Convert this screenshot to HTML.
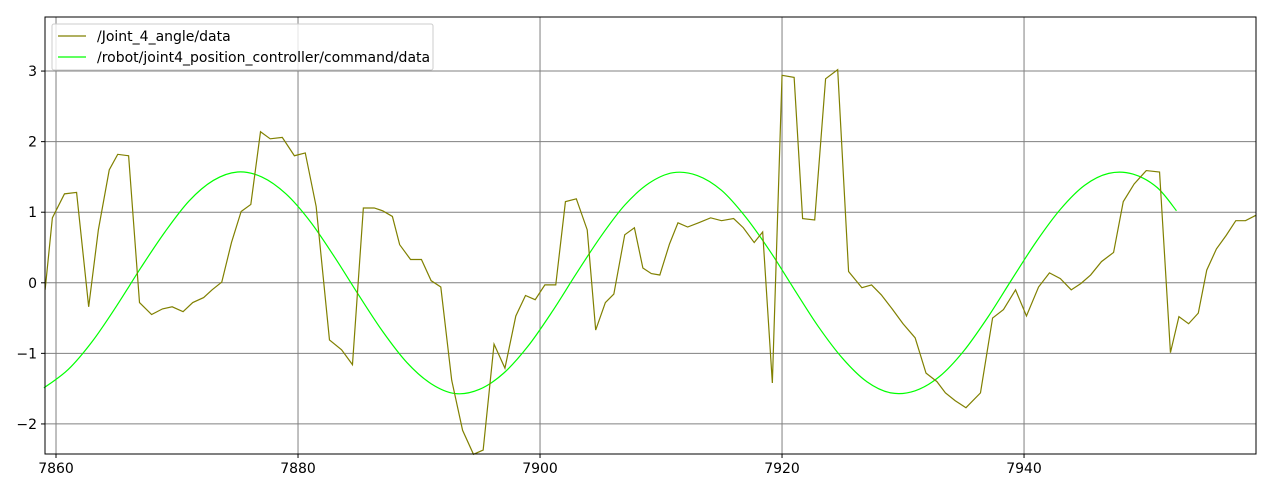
<!DOCTYPE html>
<html><head><meta charset="utf-8"><style>
body{margin:0;background:#fff;font-family:"Liberation Sans",sans-serif}
svg text{font-family:"DejaVu Sans","Liberation Sans",sans-serif;font-size:14px;fill:#000}
</style></head><body>
<svg id="chart" width="1271" height="493">
<rect x="0" y="0" width="1271" height="493" fill="#fff"/>
<g id="grid"></g>
<g id="series"></g>
<g id="axes"></g>
<g id="legend">
<rect x="52" y="24" width="381" height="46" fill="#fff" fill-opacity="0.8" stroke="#ccc" rx="2"/>
<line x1="58" y1="36" x2="86" y2="36" stroke="#808000" stroke-width="1.2"/>
<text x="97" y="41">/Joint_4_angle/data</text>
<line x1="58" y1="57" x2="86" y2="57" stroke="#00ff00" stroke-width="1.2"/>
<text x="97" y="62">/robot/joint4_position_controller/command/data</text>
</g>
</svg>
<script>
const angleX=[7859.1,7859.7,7860.7,7861.7,7862.7,7863.5,7864.4,7865.1,7866.0,7866.9,7867.9,7868.8,7869.6,7870.5,7871.3,7872.2,7872.9,7873.7,7874.5,7875.3,7876.1,7876.9,7877.7,7878.7,7879.7,7880.6,7881.5,7882.6,7883.6,7884.5,7885.4,7886.3,7887.0,7887.8,7888.4,7889.3,7890.2,7891.0,7891.8,7892.7,7893.6,7894.5,7895.3,7896.2,7897.1,7898.0,7898.8,7899.6,7900.4,7901.3,7902.1,7903.0,7903.9,7904.6,7905.4,7906.1,7907.0,7907.8,7908.5,7909.2,7909.9,7910.7,7911.4,7912.2,7913.1,7914.1,7915.0,7916.0,7916.8,7917.7,7918.4,7919.2,7920.0,7921.0,7921.7,7922.7,7923.6,7924.6,7925.5,7926.6,7927.4,7928.2,7929.1,7930.0,7931.0,7931.9,7932.8,7933.5,7934.3,7935.2,7936.4,7937.4,7938.3,7939.3,7940.2,7941.2,7942.1,7943.0,7943.9,7944.7,7945.5,7946.4,7947.4,7948.2,7949.1,7950.1,7951.2,7952.1,7952.8,7953.6,7954.4,7955.1,7955.9,7956.7,7957.5,7958.3,7959.2];
const angleY=[-0.10,0.92,1.26,1.28,-0.34,0.75,1.60,1.82,1.80,-0.28,-0.45,-0.37,-0.34,-0.41,-0.28,-0.21,-0.10,0.01,0.57,1.01,1.11,2.14,2.04,2.06,1.80,1.84,1.08,-0.81,-0.95,-1.16,1.06,1.06,1.02,0.94,0.54,0.33,0.33,0.03,-0.06,-1.38,-2.09,-2.43,-2.37,-0.87,-1.21,-0.47,-0.18,-0.24,-0.03,-0.03,1.15,1.19,0.75,-0.67,-0.28,-0.16,0.68,0.78,0.21,0.13,0.11,0.55,0.85,0.79,0.85,0.92,0.88,0.91,0.78,0.57,0.72,-1.42,2.94,2.91,0.91,0.89,2.89,3.02,0.16,-0.07,-0.03,-0.17,-0.37,-0.58,-0.78,-1.28,-1.40,-1.56,-1.67,-1.77,-1.56,-0.50,-0.38,-0.10,-0.47,-0.06,0.14,0.06,-0.10,-0.01,0.11,0.30,0.43,1.15,1.40,1.59,1.57,-0.99,-0.48,-0.58,-0.43,0.18,0.48,0.67,0.88,0.88,0.96];
const cmdX=[7859,7861,7863,7865,7867,7869,7871,7873,7875,7877,7879,7881,7883,7885,7887,7889,7891,7893,7895,7897,7899,7901,7903,7905,7907,7909,7911,7913,7915,7917,7919,7921,7923,7925,7927,7929,7931,7933,7935,7937,7939,7941,7943,7945,7947,7949,7951,7952.6];
const cmdY=[-1.49,-1.23,-0.83,-0.33,0.21,0.72,1.16,1.45,1.57,1.50,1.26,0.87,0.37,-0.17,-0.69,-1.13,-1.43,-1.57,-1.51,-1.28,-0.90,-0.41,0.13,0.65,1.10,1.41,1.56,1.52,1.31,0.93,0.45,-0.09,-0.62,-1.07,-1.40,-1.56,-1.53,-1.33,-0.97,-0.49,0.05,0.58,1.04,1.38,1.55,1.54,1.35,1.02];
const xTicks=[7860,7880,7900,7920,7940];
const yTicks=[-2,-1,0,1,2,3];
const L=45,R=1256,T=17,B=454,xMin=7859.09,xMax=7959.17,yMin=-2.426,yMax=3.766;
const sx=v=>L+(v-xMin)/(xMax-xMin)*(R-L);
const sy=v=>B-(v-yMin)/(yMax-yMin)*(B-T);
const NS="http://www.w3.org/2000/svg";
function mk(tag,attrs,parent){const e=document.createElementNS(NS,tag);for(const k in attrs)e.setAttribute(k,attrs[k]);document.getElementById(parent).appendChild(e);return e;}
xTicks.forEach(t=>{
 const g=mk('line',{x1:sx(t),x2:sx(t),y1:T,y2:B,stroke:'#808080','stroke-width':1},'grid');
 
 
 const k=mk('line',{x1:sx(t),x2:sx(t),y1:B,y2:B+4,stroke:'#000'},'axes');
 
 
 const tx=mk('text',{x:sx(t),y:B+19,'text-anchor':'middle'},'axes');tx.textContent=t;
 
 
});
yTicks.forEach(t=>{
 const g=mk('line',{x1:L,x2:R,y1:sy(t),y2:sy(t),stroke:'#808080','stroke-width':1},'grid');
 
 
 const k=mk('line',{x1:L-4,x2:L,y1:sy(t),y2:sy(t),stroke:'#000'},'axes');
 
 
 const tx=mk('text',{x:L-8,y:sy(t)+5,'text-anchor':'end'},'axes');tx.textContent=(t<0?'\u2212'+(-t):t);
 
 
});
const fr=mk('rect',{x:L,y:T,width:R-L,height:B-T,fill:'none',stroke:'#000','stroke-width':1},'axes');


// smooth curve (Catmull-Rom) through command samples
const cp=cmdX.map((x,i)=>[sx(x),sy(cmdY[i])]);
let d='M'+cp[0][0]+','+cp[0][1];
for(let i=0;i<cp.length-1;i++){
 const p0=cp[Math.max(0,i-1)],p1=cp[i],p2=cp[i+1],p3=cp[Math.min(cp.length-1,i+2)];
 const c1=[p1[0]+(p2[0]-p0[0])/6,p1[1]+(p2[1]-p0[1])/6];
 const c2=[p2[0]-(p3[0]-p1[0])/6,p2[1]-(p3[1]-p1[1])/6];
 d+=' C'+c1[0]+','+c1[1]+' '+c2[0]+','+c2[1]+' '+p2[0]+','+p2[1];
}
const p1=mk('path',{d:d,fill:'none',stroke:'#00ff00','stroke-width':1.2},'series');


const p2=mk('polyline',{points:angleX.map((x,i)=>sx(x)+','+sy(angleY[i])).join(' '),fill:'none',stroke:'#808000','stroke-width':1.2},'series');


</script>
</body></html>
